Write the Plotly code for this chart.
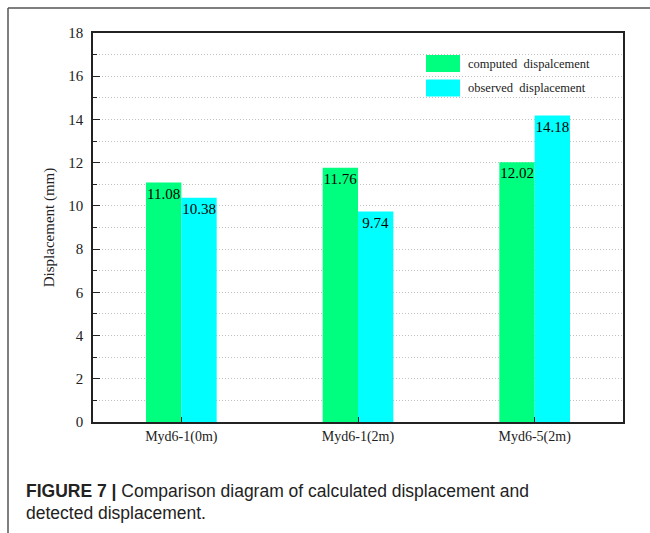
import plotly.graph_objects as go

categories = ["Myd6-1(0m)", "Myd6-1(2m)", "Myd6-5(2m)"]
computed = [11.08, 11.76, 12.02]
observed = [10.38, 9.74, 14.18]
series_names = ["computed  dispalcement", "observed  displacement"]
colors = ["#00FF7F", "#00FFFF"]
y_ticks = [0, 2, 4, 6, 8, 10, 12, 14, 16, 18]

W, H = 650, 533
L, R, T, B = 93, 27, 33, 111
PW, PH = W - L - R, H - T - B


def px(x):
    return (x - L) / PW


def py(y):
    return (H - B - y) / PH


fig = go.Figure()
for vals, name, col in zip([computed, observed], series_names, colors):
    fig.add_trace(go.Bar(
        x=categories, y=vals, name=name,
        marker=dict(color=col, line=dict(width=0)),
        text=[f"{v:.2f}" for v in vals],
        textposition="inside", insidetextanchor="end", textangle=0,
        textfont=dict(family="Liberation Serif", size=15, color="black"),
        showlegend=False,
    ))

shapes = [
    dict(type="line", xref="paper", yref="paper", x0=px(8), x1=px(W + 5), y0=py(8), y1=py(8),
         line=dict(color="#555555", width=1.5)),
    dict(type="line", xref="paper", yref="paper", x0=px(8), x1=px(8), y0=py(8), y1=py(H + 5),
         line=dict(color="#555555", width=1.5)),
]
annotations = []
leg_y = [63.5, 88]
for name, col, yc in zip(series_names, colors, leg_y):
    shapes.append(dict(type="rect", xref="paper", yref="paper",
                       x0=px(426), x1=px(460), y0=py(yc - 8.5), y1=py(yc + 8.5),
                       fillcolor=col, line=dict(width=0)))
    annotations.append(dict(xref="paper", yref="paper", x=px(466), y=py(yc),
                            xanchor="left", yanchor="middle", showarrow=False,
                            text=name, font=dict(family="Liberation Serif", size=12.5, color="#222")))

annotations.append(dict(xref="paper", yref="paper", x=px(24), y=py(491), xanchor="left", yanchor="middle",
                        showarrow=False,
                        text="<b>FIGURE 7 |</b> Comparison diagram of calculated displacement and",
                        font=dict(family="Liberation Sans", size=17.5, color="#222")))
annotations.append(dict(xref="paper", yref="paper", x=px(24), y=py(513), xanchor="left", yanchor="middle",
                        showarrow=False,
                        text="detected displacement.",
                        font=dict(family="Liberation Sans", size=17.5, color="#222")))

fig.update_layout(
    width=W, height=H,
    margin=dict(l=L, r=R, t=T, b=B),
    paper_bgcolor="white", plot_bgcolor="white",
    barmode="group", bargap=0.6, bargroupgap=0,
    uniformtext=dict(mode="show", minsize=15),
    shapes=shapes, annotations=annotations,
    font=dict(family="Liberation Serif", color="#222"),
)
fig.update_xaxes(
    range=[-0.5, 2.5], showline=True, linecolor="#222", linewidth=1.5, mirror=True,
    ticks="inside", ticklen=5, tickcolor="#222", showgrid=False, ticklabelstandoff=0,
    tickfont=dict(family="Liberation Serif", size=14, color="#222"),
)
fig.update_yaxes(
    range=[0, 18], tickvals=y_ticks, showline=True, linecolor="#222", linewidth=1.5, mirror=True,
    ticks="inside", ticklen=7, tickcolor="#222", ticklabelstandoff=5,
    showgrid=True, gridcolor="#c0c0c0", griddash="1px,2px", gridwidth=1, zeroline=False,
    minor=dict(dtick=1, ticks="inside", ticklen=4, tickcolor="#222",
               showgrid=True, gridcolor="#c0c0c0", griddash="1px,2px"),
    tickfont=dict(family="Liberation Serif", size=15, color="#222"),
    title=dict(text="Displacement (mm)", font=dict(family="Liberation Serif", size=15, color="#222"),
               standoff=10),
)

fig.write_html("out.html", config={"displayModeBar": False},
               post_script="document.body.style.margin='0';")
